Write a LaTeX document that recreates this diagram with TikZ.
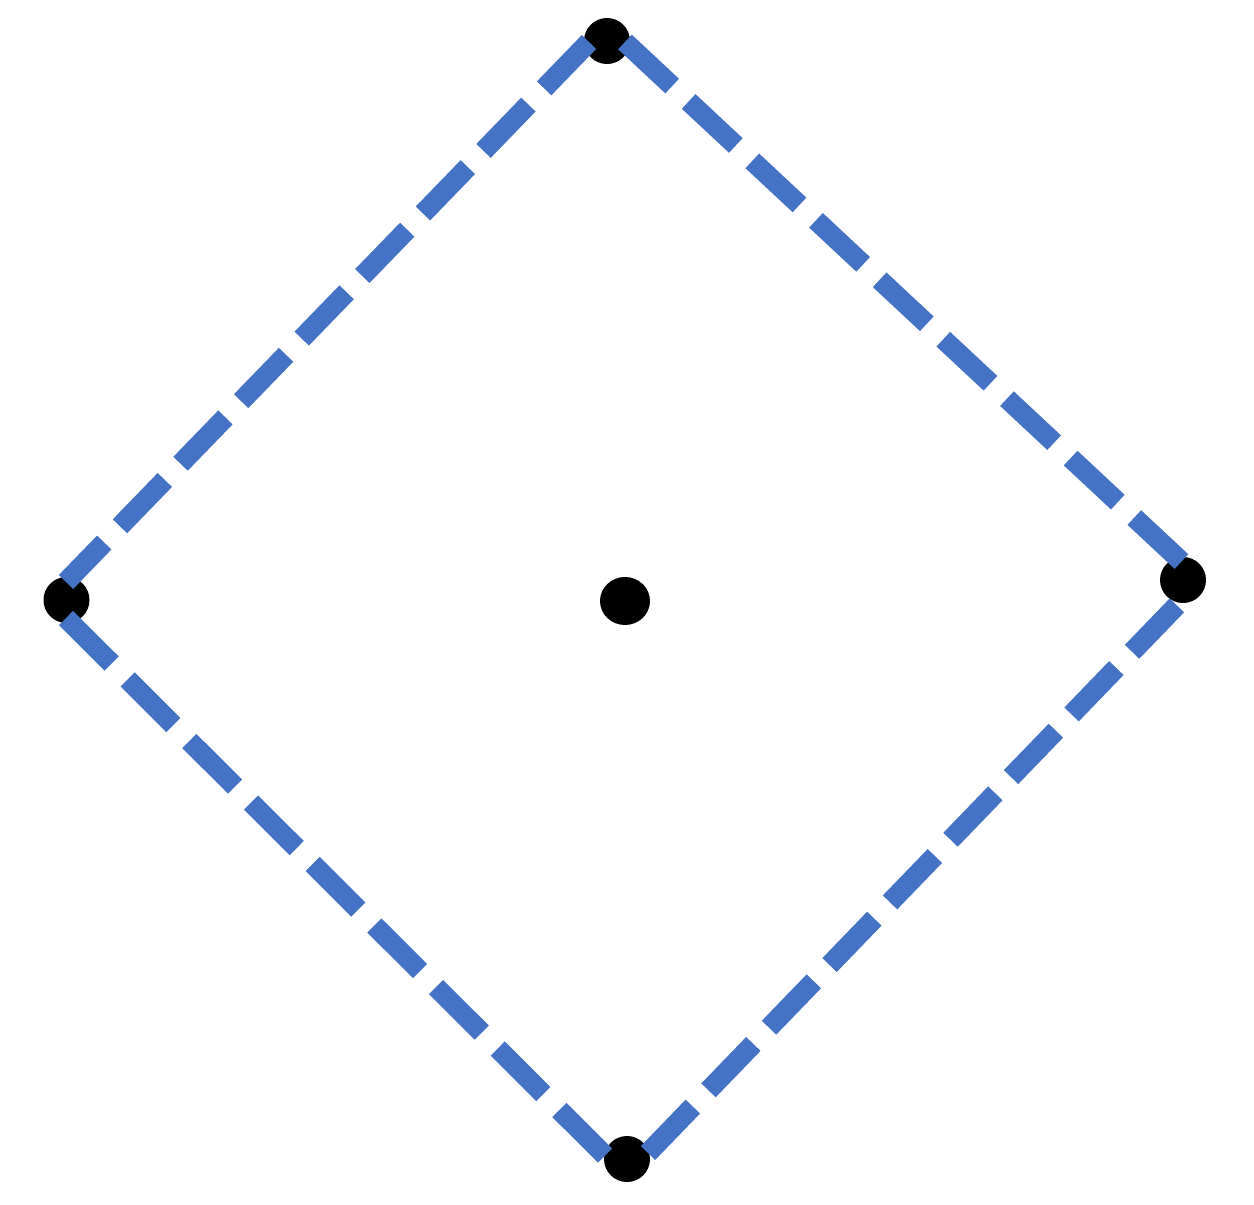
\documentclass[tikz,border=0pt]{standalone}
\usetikzlibrary{shapes.geometric}
\definecolor{edgeblue}{HTML}{4472C4}
\begin{document}
\begin{tikzpicture}[x=0.5pt,y=-0.5pt,
  dot/.style={circle,fill=black,draw=none,inner sep=0pt,minimum size=23pt},
  middot/.style={ellipse,fill=black,draw=none,inner sep=0pt,minimum width=25pt,minimum height=24pt},
  edge/.style={draw=edgeblue,line width=10pt,line cap=butt,dash pattern=on 32.25pt off 11.3pt}]
\useasboundingbox (0,0) rectangle (1254,1205);
% vertex dots
\node[dot] (top) at (607,41) {};
\node[dot] (left) at (66.5,600) {};
\node[dot] (bottom) at (627,1159) {};
\node[dot] (right) at (1183,580) {};
\node[middot] (center) at (625,601) {};
% line end points near the dots
\coordinate (topL) at (589,42);
\coordinate (topR) at (625,42);
\coordinate (leftT) at (66,582);
\coordinate (leftB) at (66,618);
\coordinate (botL) at (607.5,1158);
\coordinate (botR) at (648,1153);
\coordinate (rightT) at (1183,563);
\coordinate (rightB) at (1184,598);
% dashed edges
\draw[edge] (topL) -- (leftT);
\draw[edge] (topR) -- (rightT);
\draw[edge] (leftB) -- (botL);
\draw[edge] (botR) -- (rightB);
\end{tikzpicture}
\end{document}
